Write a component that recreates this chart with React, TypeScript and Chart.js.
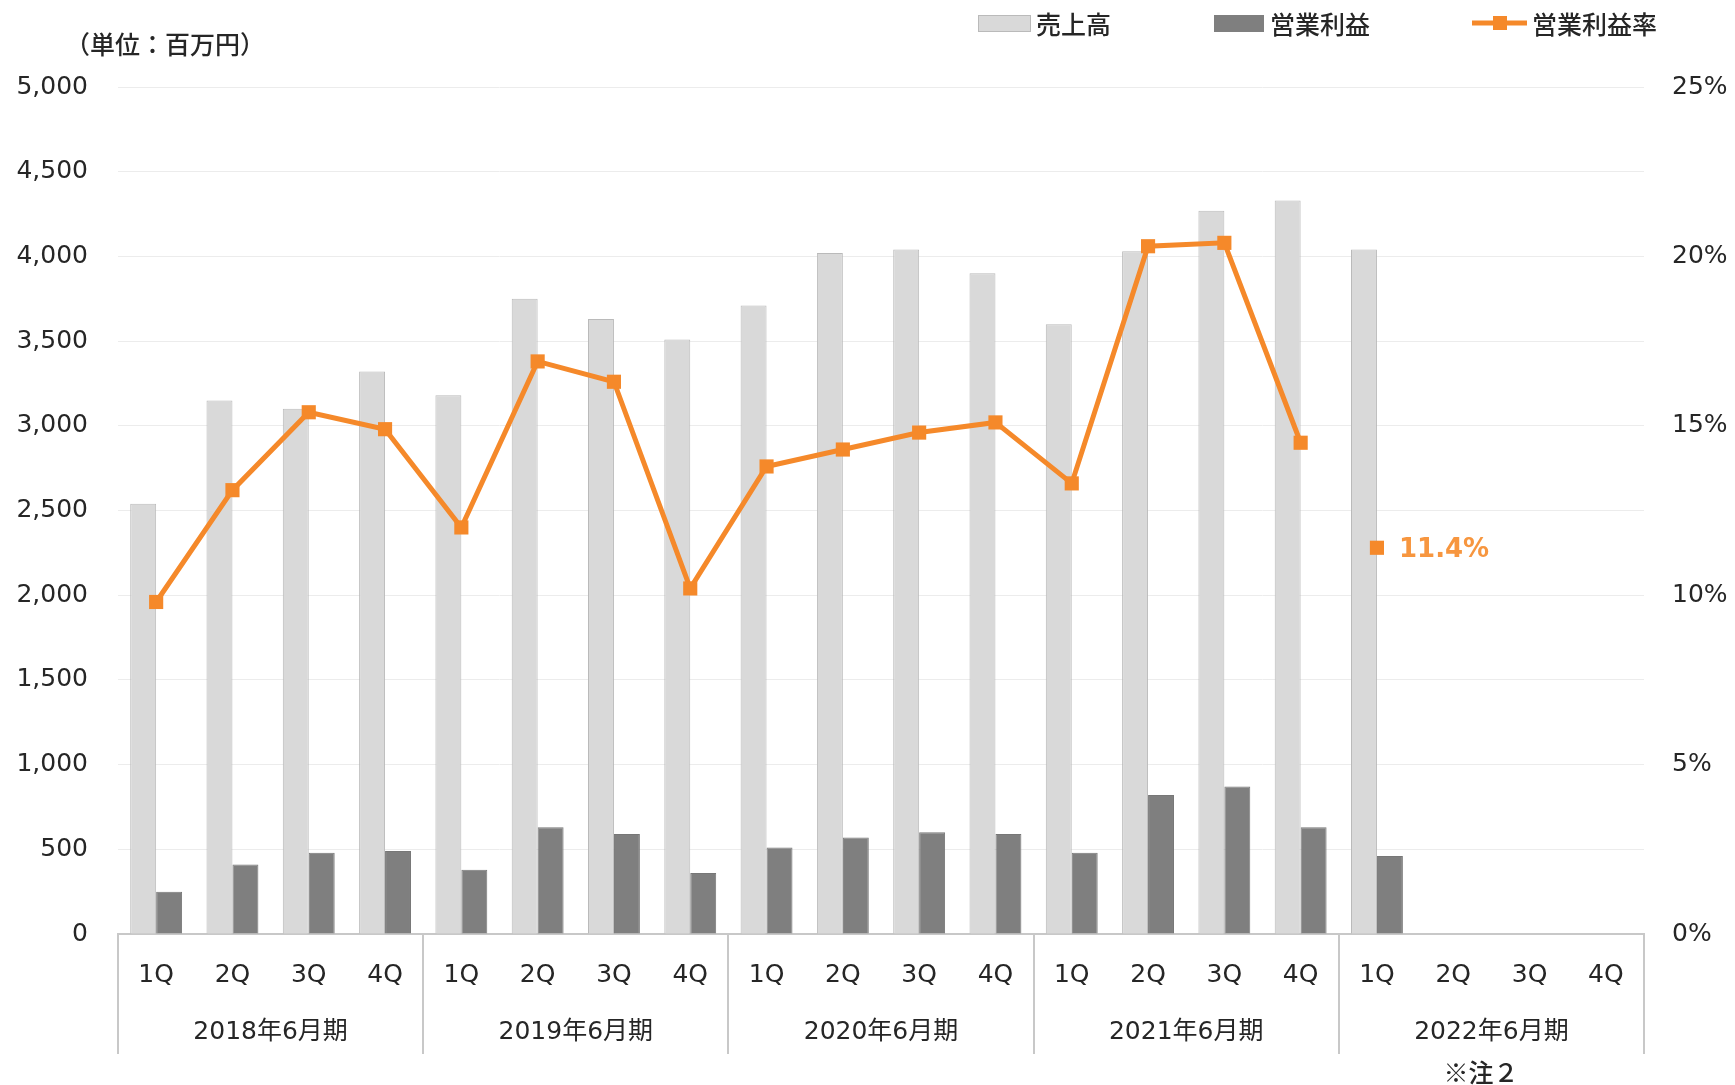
import React, { useEffect, useRef } from 'react';
import { Chart, registerables } from 'chart.js';

Chart.register(...registerables);

// ---------- data ----------
const quarters = ['1Q', '2Q', '3Q', '4Q'];
const fiscalYears = ['2018年6月期', '2019年6月期', '2020年6月期', '2021年6月期', '2022年6月期'];
const categories = fiscalYears.flatMap(() => quarters);

const sales = [
  2540, 3150, 3100, 3320,
  3180, 3750, 3630, 3510,
  3710, 4020, 4040, 3900,
  3600, 4030, 4270, 4330,
  4040, null, null, null,
];
const operatingIncome = [
  250, 410, 480, 490,
  380, 630, 590, 360,
  510, 570, 600, 590,
  480, 820, 870, 630,
  460, null, null, null,
];
const operatingMargin = [
  9.8, 13.1, 15.4, 14.9,
  12.0, 16.9, 16.3, 10.2,
  13.8, 14.3, 14.8, 15.1,
  13.3, 20.3, 20.4, 14.5,
  11.4, null, null, null,
];
const seriesNames = ['売上高', '営業利益', '営業利益率'];
const leftAxis = { min: 0, max: 5000, step: 500 };
const rightAxis = { min: 0, max: 25, step: 5 };
const unitLabel = '（単位：百万円）';
const noteLabel = '※注２';

// index where the margin line is not connected (start of latest fiscal year)
const lineBreakIndex = (fiscalYears.length - 1) * quarters.length;

// ---------- styles ----------
const FONT = '"DejaVu Sans", "Noto Sans CJK JP", sans-serif';
const JP_FONT = '"Noto Sans CJK JP", "DejaVu Sans", sans-serif';
const TEXT = '#262626';
const SALES_FILL = '#d9d9d9';
const SALES_BORDER = '#bababa';
const OI_FILL = '#7f7f7f';
const OI_BORDER = '#777777';
const ORANGE = '#f5892a';
const ORANGE_TEXT = '#f7963f';
const SEP = '#c8c8c8';

const decorPlugin = {
  id: 'decor',
  afterDatasetsDraw(chart: any) {
    const { ctx } = chart;
    const meta = chart.getDatasetMeta(2);
    const pt = meta.data[lineBreakIndex];
    const v = operatingMargin[lineBreakIndex];
    if (pt && v != null) {
      ctx.save();
      ctx.font = 'bold 26px ' + FONT;
      ctx.fillStyle = ORANGE_TEXT;
      ctx.textAlign = 'left';
      ctx.textBaseline = 'middle';
      ctx.fillText(v.toFixed(1) + '%', pt.x + 22, pt.y + 2);
      ctx.restore();
    }
  },
  afterDraw(chart: any) {
    const { ctx, chartArea } = chart;
    const x = chart.scales.x;
    const n = categories.length;
    const w = (x.right - x.left) / n;
    ctx.save();
    // group separators
    ctx.strokeStyle = SEP;
    ctx.lineWidth = 2;
    for (let g = 0; g <= fiscalYears.length; g++) {
      const px = Math.round(x.left + g * quarters.length * w);
      ctx.beginPath();
      ctx.moveTo(px, chartArea.bottom);
      ctx.lineTo(px, chartArea.bottom + 120);
      ctx.stroke();
    }
    // fiscal year labels
    ctx.font = '25px ' + FONT;
    ctx.fillStyle = TEXT;
    ctx.textAlign = 'center';
    ctx.textBaseline = 'middle';
    fiscalYears.forEach((fy, g) => {
      const cx = x.left + (g * quarters.length + quarters.length / 2) * w;
      ctx.fillText(fy, cx, chartArea.bottom + 98);
    });
    // note
    ctx.font = '500 25px ' + JP_FONT;
    ctx.fillText(noteLabel, 1481, 1072);
    // unit label
    ctx.textAlign = 'left';
    ctx.fillText(unitLabel, 65, 44);

    // legend
    const ly = 24;
    ctx.fillStyle = SALES_FILL;
    ctx.fillRect(978, 15, 53, 17);
    ctx.strokeStyle = SALES_BORDER;
    ctx.lineWidth = 1;
    ctx.strokeRect(978.5, 15.5, 52, 16);
    ctx.fillStyle = OI_FILL;
    ctx.fillRect(1214, 15, 50, 17);
    ctx.strokeStyle = ORANGE;
    ctx.lineWidth = 5;
    ctx.beginPath();
    ctx.moveTo(1472, ly - 1);
    ctx.lineTo(1527, ly - 1);
    ctx.stroke();
    ctx.fillStyle = ORANGE;
    ctx.fillRect(1493, ly - 8, 14, 14);
    ctx.fillStyle = TEXT;
    ctx.font = '500 25px ' + JP_FONT;
    ctx.fillText(seriesNames[0], 1036, ly);
    ctx.fillText(seriesNames[1], 1270, ly);
    ctx.fillText(seriesNames[2], 1532, ly);
    ctx.restore();
  },
};

export default function App() {
  const ref = useRef<HTMLCanvasElement | null>(null);
  useEffect(() => {
    if (!ref.current) return;
    const chart = new Chart(ref.current, {
      type: 'bar',
      data: {
        labels: categories,
        datasets: [
          {
            type: 'bar',
            label: seriesNames[0],
            data: sales,
            backgroundColor: SALES_FILL,
            borderColor: SALES_BORDER,
            borderWidth: 1,
            yAxisID: 'y',
            order: 1,
            categoryPercentage: 0.68,
            barPercentage: 1,
          },
          {
            type: 'bar',
            label: seriesNames[1],
            data: operatingIncome,
            backgroundColor: OI_FILL,
            borderColor: OI_BORDER,
            borderWidth: 1,
            yAxisID: 'y',
            order: 2,
            categoryPercentage: 0.68,
            barPercentage: 1,
          },
          {
            type: 'line',
            label: seriesNames[2],
            data: operatingMargin,
            yAxisID: 'y1',
            order: 0,
            borderColor: ORANGE,
            backgroundColor: ORANGE,
            borderWidth: 5,
            pointStyle: 'rect',
            pointRadius: 10,
            pointBackgroundColor: ORANGE,
            pointBorderWidth: 0,
            tension: 0,
            spanGaps: false,
            segment: {
              borderColor: (c: any) => (c.p1DataIndex === lineBreakIndex ? 'rgba(0,0,0,0)' : ORANGE),
            },
          } as any,
        ],
      },
      options: {
        responsive: false,
        animation: false,
        layout: { padding: { top: 87, left: 0, right: 0, bottom: 0 } },
        plugins: { legend: { display: false }, tooltip: { enabled: false } },
        scales: {
          x: {
            type: 'category',
            offset: true,
            grid: { display: false, drawTicks: false },
            border: { display: true, color: SEP, width: 2 },
            ticks: {
              padding: 26,
              color: TEXT,
              font: { size: 25, family: FONT },
              maxRotation: 0,
              autoSkip: false,
            },
            afterFit: (s: any) => {
              s.height = 151;
            },
          },
          y: {
            position: 'left',
            min: leftAxis.min,
            max: leftAxis.max,
            ticks: {
              stepSize: leftAxis.step,
              padding: 30,
              color: TEXT,
              font: { size: 25, family: FONT },
              callback: (v: any) => Number(v).toLocaleString('en-US'),
            },
            grid: { color: '#ececec', lineWidth: 1, drawTicks: false },
            border: { display: false },
            afterFit: (s: any) => {
              s.width = 118;
            },
          },
          y1: {
            position: 'right',
            min: rightAxis.min,
            max: rightAxis.max,
            ticks: {
              stepSize: rightAxis.step,
              padding: 28,
              color: TEXT,
              font: { size: 25, family: FONT },
              callback: (v: any) => v + '%',
            },
            grid: { display: false, drawTicks: false },
            border: { display: false },
            afterFit: (s: any) => {
              s.width = 91;
            },
          },
        },
      } as any,
      plugins: [decorPlugin],
    });
    return () => chart.destroy();
  }, []);

  return (
    <div style={{ position: 'fixed', left: 0, top: 0, width: 1735, height: 1085, background: '#fff' }}>
      <canvas ref={ref} width={1735} height={1085} style={{ display: 'block' }} />
    </div>
  );
}
